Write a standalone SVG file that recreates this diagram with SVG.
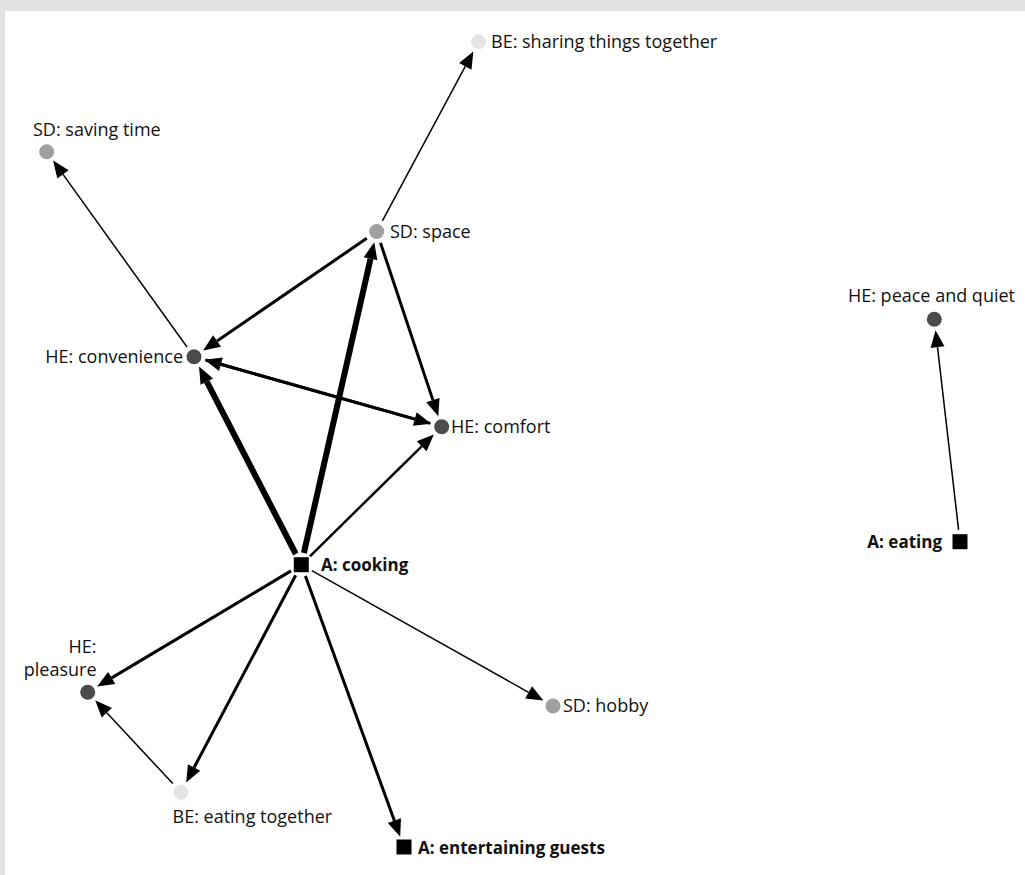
<svg xmlns="http://www.w3.org/2000/svg" width="1025" height="875" viewBox="0 0 1025 875">
  <defs>
    <style>
      .lbl { font-family: "Open Sans", "Liberation Sans", sans-serif; font-size: 18px; fill: #111; }
      .act { font-family: "Open Sans", "Liberation Sans", sans-serif; font-size: 17px; font-weight: bold; fill: #111; }
      .he { fill: #4b4b4d; }
      .sd { fill: #a0a0a0; }
      .be { fill: #e5e5e5; }
      .a { fill: #000; }
      .e { stroke: #000; fill: none; marker-end: url(#arrow); }
      .thin { stroke-width: 1.5; }
      .mid { stroke-width: 3; }
      .mid2 { stroke-width: 2.5; }
      .thick { stroke-width: 6; }
    </style>
    <marker id="arrow" markerUnits="userSpaceOnUse" viewBox="0 -7 17 14" refX="0" refY="0" markerWidth="17" markerHeight="14" orient="auto" overflow="visible">
      <path d="M0,-7 L17,0 L0,7 Z" fill="#000"/>
    </marker>
  </defs>

  <!-- frame -->
  <rect x="0" y="0" width="1025" height="875" fill="#e1e2e4"/>
  <rect x="5" y="11" width="1020" height="864" fill="#fff"/>

  <!-- connectors: each line ends at the arrowhead base -->
  <g id="connectors">
    <line class="e thin" x1="382.4" y1="220.9" x2="465.3" y2="66.4"/>
    <line class="e thin" x1="187.0" y1="347.0" x2="63.0" y2="174.4"/>
    <line class="e mid" x1="366.8" y1="238.3" x2="217.1" y2="340.9"/>
    <line class="e mid" x1="380.5" y1="242.9" x2="432.9" y2="400.1"/>
    <line class="e mid" x1="205.5" y1="360.0" x2="414.8" y2="419.1"/>
    <line class="e mid" x1="430.2" y1="423.4" x2="220.9" y2="364.3"/>
    <line class="e thick" x1="295.8" y1="554.0" x2="206.8" y2="381.6"/>
    <line class="e thick" x1="303.9" y1="553.0" x2="370.5" y2="258.8"/>
    <line class="e mid2" x1="309.9" y1="556.3" x2="421.7" y2="446.3"/>
    <line class="e mid" x1="291.0" y1="570.9" x2="111.7" y2="677.9"/>
    <line class="e mid" x1="295.7" y1="575.3" x2="194.1" y2="767.5"/>
    <line class="e mid" x1="305.4" y1="576.0" x2="394.4" y2="820.7"/>
    <line class="e thin" x1="311.8" y1="570.6" x2="528.6" y2="692.3"/>
    <line class="e thin" x1="172.8" y1="783.5" x2="106.8" y2="712.8"/>
    <line class="e thin" x1="958.6" y1="529.8" x2="937.5" y2="347.1"/>
  </g>

  <!-- nodes -->
  <g id="be-sharing">
    <circle class="be" cx="478.5" cy="41.7" r="7.5"/>
    <text class="lbl" x="491" y="48">BE: sharing things together</text>
  </g>
  <g id="sd-saving-time">
    <circle class="sd" cx="46.7" cy="151.7" r="7.5"/>
    <text class="lbl" x="33" y="136">SD: saving time</text>
  </g>
  <g id="sd-space">
    <circle class="sd" cx="376.7" cy="231.5" r="7.5"/>
    <text class="lbl" x="390" y="237.5">SD: space</text>
  </g>
  <g id="he-convenience">
    <circle class="he" cx="194" cy="356.7" r="7.5"/>
    <text class="lbl" x="183" y="363" text-anchor="end">HE: convenience</text>
  </g>
  <g id="he-comfort">
    <circle class="he" cx="441.7" cy="426.7" r="7.5"/>
    <text class="lbl" x="451" y="433">HE: comfort</text>
  </g>
  <g id="a-cooking">
    <rect class="a" x="293.8" y="557.2" width="15" height="15"/>
    <text class="act" x="321" y="571">A: cooking</text>
  </g>
  <g id="he-pleasure">
    <circle class="he" cx="87.7" cy="692.3" r="7.5"/>
    <text class="lbl" x="96.5" y="653" text-anchor="end">HE:</text>
    <text class="lbl" x="96.5" y="676" text-anchor="end">pleasure</text>
  </g>
  <g id="be-eating-together">
    <circle class="be" cx="181" cy="792.3" r="7.5"/>
    <text class="lbl" x="172.5" y="823">BE: eating together</text>
  </g>
  <g id="a-entertaining-guests">
    <rect class="a" x="396.5" y="839.5" width="15" height="15"/>
    <text class="act" x="418" y="854">A: entertaining guests</text>
  </g>
  <g id="sd-hobby">
    <circle class="sd" cx="553" cy="706" r="7.5"/>
    <text class="lbl" x="563" y="712">SD: hobby</text>
  </g>
  <g id="he-peace-and-quiet">
    <circle class="he" cx="934.3" cy="319.3" r="7.5"/>
    <text class="lbl" x="1015" y="302" text-anchor="end">HE: peace and quiet</text>
  </g>
  <g id="a-eating">
    <rect class="a" x="952.5" y="534.2" width="15" height="15"/>
    <text class="act" x="942" y="548" text-anchor="end">A: eating</text>
  </g>
</svg>
